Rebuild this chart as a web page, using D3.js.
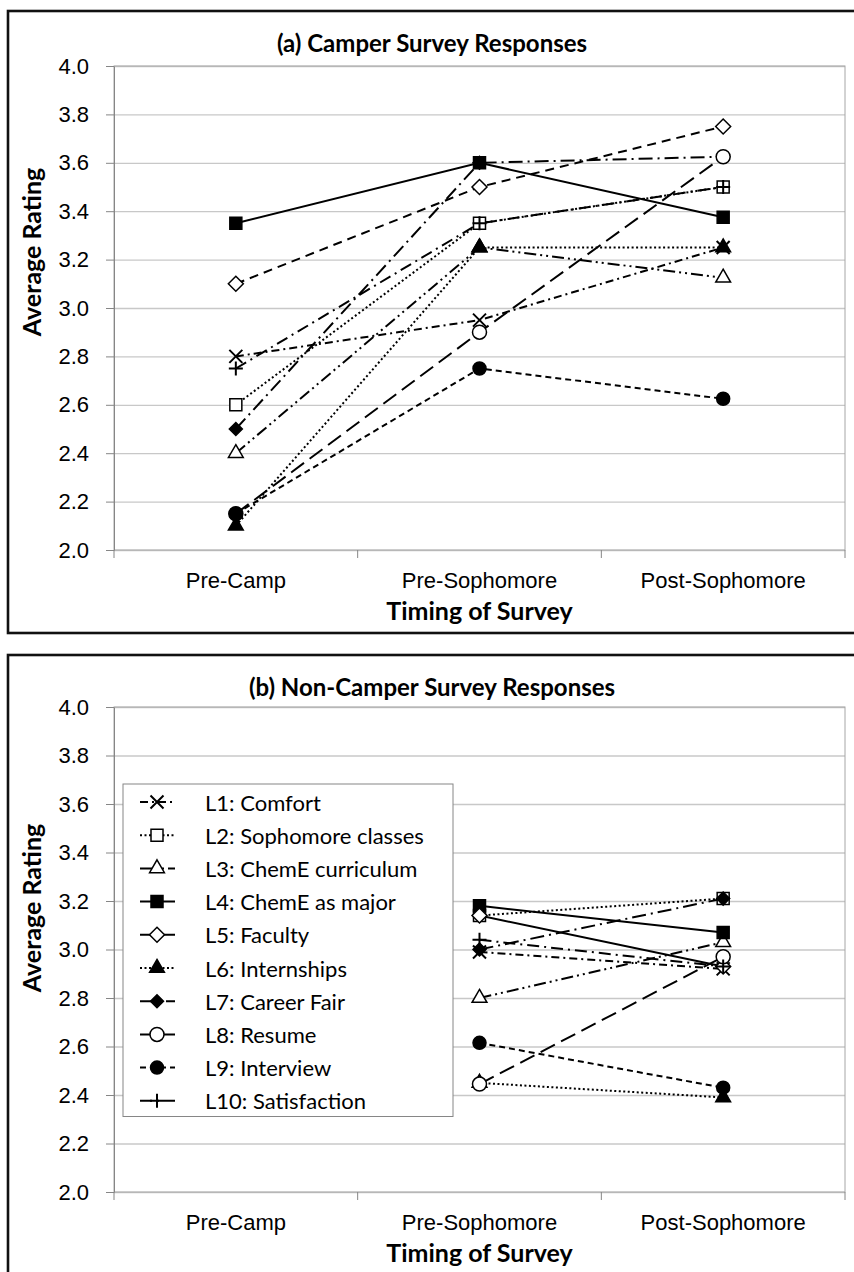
<!DOCTYPE html>
<html>
<head>
<meta charset="utf-8">
<script src="https://cdn.jsdelivr.net/npm/d3@7"></script>
<style>
  body { margin: 0; background: #fff; }
  svg { display: block; font-family: Lato, 'Open Sans', sans-serif; }
</style>
</head>
<body>
<svg id="svg" width="854" height="1272"></svg>
<script>
'use strict';

const stages = ['Pre-Camp', 'Pre-Sophomore', 'Post-Sophomore'];
const seriesLabels = [
  'L1: Comfort',
  'L2: Sophomore classes',
  'L3: ChemE curriculum',
  'L4: ChemE as major',
  'L5: Faculty',
  'L6: Internships',
  'L7: Career Fair',
  'L8: Resume',
  'L9: Interview',
  'L10: Satisfaction',
];
const yTicks = [2.0, 2.2, 2.4, 2.6, 2.8, 3.0, 3.2, 3.4, 3.6, 3.8, 4.0];

// Campers were surveyed at all three points
const camperRatings = [
  [2.8, 2.95, 3.25],
  [2.6, 3.35, 3.5],
  [2.4, 3.25, 3.125],
  [3.35, 3.6, 3.375],
  [3.1, 3.5, 3.75],
  [2.1, 3.25, 3.25],
  [2.5, 3.6, 3.625],
  [2.15, 2.9, 3.625],
  [2.15, 2.75, 2.625],
  [2.75, 3.35, 3.5],
];

// Non-campers have no pre-camp survey
const nonCamperRatings = [
  [null, 2.99, 2.92],
  [null, 3.14, 3.21],
  [null, 2.8, 3.03],
  [null, 3.18, 3.07],
  [null, 3.14, 2.93],
  [null, 2.45, 2.39],
  [null, 3.0, 3.21],
  [null, 2.445, 2.97],
  [null, 2.615, 2.43],
  [null, 3.04, 2.93],
];

// Marker and line style for each series
const seriesStyle = [
  { type: d3.symbolTimes, size: 112, fill: 'none', dash: '8,4,2,4' },
  { type: d3.symbolSquare, size: 144, fill: '#fff', dash: '2,2.5' },
  { type: d3.symbolTriangle, size: 95, fill: '#fff', dash: '12,4,2,4,2,4' },
  { type: d3.symbolSquare, size: 144, fill: '#000', dash: null },
  { type: d3.symbolDiamond2, size: 143, fill: '#fff', dash: '9,6' },
  { type: d3.symbolTriangle, size: 95, fill: '#000', dash: '2,2.5' },
  { type: d3.symbolDiamond2, size: 108, fill: '#000', dash: '14,5,2,5' },
  { type: d3.symbolCircle, size: 154, fill: '#fff', dash: '16,7' },
  { type: d3.symbolCircle, size: 133, fill: '#000', dash: '6,4' },
  { type: d3.symbolPlus, size: 66, fill: 'none', dash: '12,5,2,5' },
];

const plotLeft = 114;
const plotRight = 845;

const panels = [
  {
    title: '(a) Camper Survey Responses',
    ratings: camperRatings,
    frameTop: 11,
    frameBottom: 633,
    plotTop: 66,
    plotBottom: 550,
    yTitleAt: 252,
    legend: false,
    solid: [],
  },
  {
    title: '(b) Non-Camper Survey Responses',
    ratings: nonCamperRatings,
    frameTop: 655,
    frameBottom: 1320,
    plotTop: 707,
    plotBottom: 1192,
    yTitleAt: 908,
    legend: true,
    solid: [4],
  },
];

const svg = d3.select('#svg');
const symbol = d3.symbol();

/**
 * Draw a series marker at the origin of the given group
 */
function marker(sel, i) {
  const st = seriesStyle[i];
  const stroked = st.fill === 'none';
  sel
    .append('path')
    .attr('d', symbol.type(st.type).size(st.size)())
    .attr('fill', st.fill)
    .attr('stroke', '#000')
    .attr('stroke-width', stroked ? 2 : 1.5);
}

/**
 * Draw one panel: frame, titles, grid, axes, lines, markers
 */
function drawPanel(p) {
  const g = svg.append('g');
  const x = d3.scaleBand().domain(stages).range([plotLeft, plotRight]);
  const y = d3.scaleLinear().domain([2, 4]).range([p.plotBottom, p.plotTop]);
  const cx = d => x(d) + x.bandwidth() / 2;

  g.append('rect')
    .attr('x', 8)
    .attr('y', p.frameTop)
    .attr('width', 900)
    .attr('height', p.frameBottom - p.frameTop)
    .attr('fill', '#fff')
    .attr('stroke', '#111')
    .attr('stroke-width', 2.6);

  g.append('text')
    .attr('x', 432)
    .attr('y', p.frameTop + 31)
    .attr('text-anchor', 'middle')
    .attr('dominant-baseline', 'central')
    .attr('font-size', 24)
    .attr('font-weight', 'bold')
    .text(p.title);

  // Gridlines
  g.append('g')
    .attr('transform', `translate(${plotLeft},0)`)
    .call(d3.axisLeft(y).tickValues(yTicks).tickSize(-(plotRight - plotLeft)).tickFormat(''))
    .call(a => a.select('.domain').remove())
    .call(a => a.selectAll('line').attr('stroke', '#c8c8c8').attr('stroke-width', 1.3));

  g.append('rect')
    .attr('x', plotLeft)
    .attr('y', p.plotTop)
    .attr('width', plotRight - plotLeft)
    .attr('height', p.plotBottom - p.plotTop)
    .attr('fill', 'none')
    .attr('stroke', '#a6a6a6');

  // Y axis
  g.append('g')
    .attr('transform', `translate(${plotLeft},0)`)
    .call(d3.axisLeft(y).tickValues(yTicks).tickFormat(d3.format('.1f')).tickSize(8).tickSizeOuter(0).tickPadding(17))
    .call(a => a.select('.domain').attr('stroke', '#868686'))
    .call(a => a.selectAll('line').attr('stroke', '#868686'))
    .call(a => a.selectAll('text').attr('font-size', 22).attr('fill', '#000').attr('font-family', null));

  // X axis labels, with ticks between categories
  g.append('g')
    .attr('transform', `translate(0,${p.plotBottom})`)
    .call(d3.axisBottom(x).tickSize(0).tickPadding(22))
    .call(a => a.select('.domain').remove())
    .call(a => a.selectAll('text').attr('font-size', 22).attr('fill', '#000').attr('font-family', null));

  g.append('g')
    .selectAll('line')
    .data(d3.range(stages.length + 1).map(i => plotLeft + i * x.step()))
    .join('line')
    .attr('x1', d => d)
    .attr('x2', d => d)
    .attr('y1', p.plotBottom)
    .attr('y2', p.plotBottom + 8)
    .attr('stroke', '#868686');

  g.append('text')
    .attr('x', (plotLeft + plotRight) / 2)
    .attr('y', p.plotBottom + 60)
    .attr('text-anchor', 'middle')
    .attr('dominant-baseline', 'central')
    .attr('font-size', 25)
    .attr('font-weight', 'bold')
    .text('Timing of Survey');

  g.append('text')
    .attr('transform', `translate(31,${p.yTitleAt}) rotate(-90)`)
    .attr('text-anchor', 'middle')
    .attr('dominant-baseline', 'central')
    .attr('font-size', 25)
    .attr('font-weight', 'bold')
    .text('Average Rating');

  const line = d3
    .line()
    .defined(d => d.v != null)
    .x(d => cx(d.stage))
    .y(d => y(d.v));

  const series = p.ratings.map((vals, i) => ({
    i,
    pts: vals.map((v, k) => ({ stage: stages[k], v })),
  }));

  g.append('g')
    .selectAll('path')
    .data(series)
    .join('path')
    .attr('d', s => line(s.pts))
    .attr('fill', 'none')
    .attr('stroke', '#000')
    .attr('stroke-width', 2)
    .attr('stroke-dasharray', s => (p.solid.includes(s.i) ? null : seriesStyle[s.i].dash));

  const mk = g.append('g');
  series.forEach(s => {
    s.pts
      .filter(d => d.v != null)
      .forEach(d => {
        mk.append('g')
          .attr('transform', `translate(${cx(d.stage)},${y(d.v)})`)
          .call(sel => marker(sel, s.i));
      });
  });

  if (p.legend) drawLegend(g, p);
}

/**
 * Legend box inside the non-camper panel
 */
function drawLegend(g, p) {
  const lg = g.append('g');
  const rowH = 33.2;
  const top = 784;
  lg.append('rect')
    .attr('x', 123)
    .attr('y', top)
    .attr('width', 330)
    .attr('height', rowH * seriesLabels.length + 0.5)
    .attr('fill', '#fff')
    .attr('stroke', '#868686');

  const row = lg
    .selectAll('g')
    .data(seriesLabels)
    .join('g')
    .attr('transform', (d, i) => `translate(0,${top + 18 + i * rowH})`);

  row.append('line')
    .attr('x1', 140)
    .attr('x2', 175)
    .attr('stroke', '#000')
    .attr('stroke-width', 2)
    .attr('stroke-dasharray', (d, i) => (p.solid.includes(i) ? null : seriesStyle[i].dash));

  row.append('g')
    .attr('transform', 'translate(157,0)')
    .each(function (d, i) {
      marker(d3.select(this), i);
    });

  row.append('text')
    .attr('x', 205)
    .attr('dominant-baseline', 'central')
    .attr('font-size', 22)
    .text(d => d);
}

panels.forEach(drawPanel);
</script>
</body>
</html>
